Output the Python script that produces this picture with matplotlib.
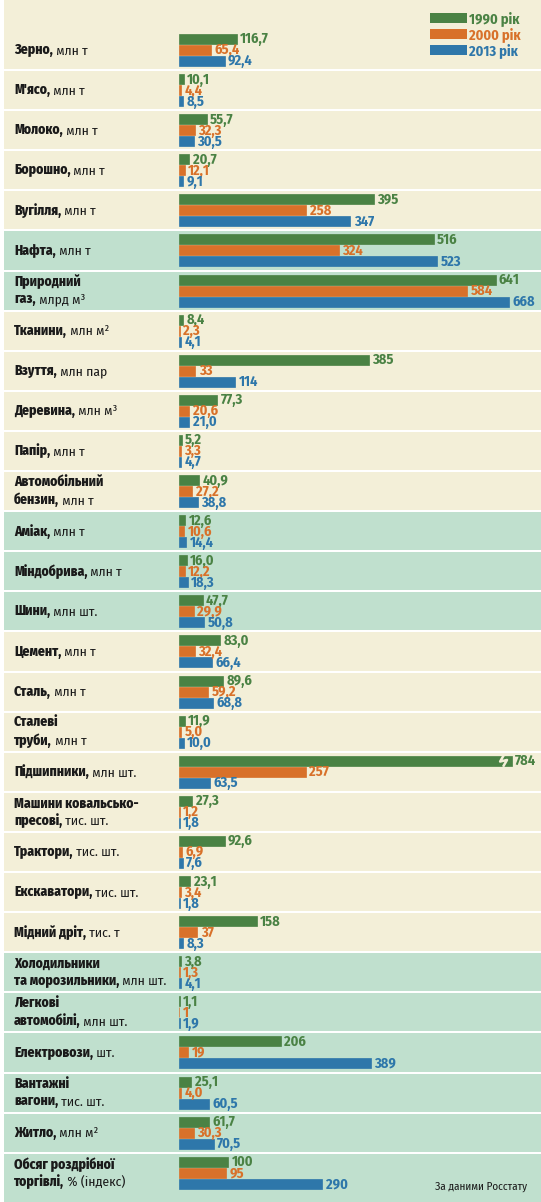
import matplotlib
matplotlib.use("Agg")
import matplotlib.pyplot as plt
from matplotlib import font_manager
from matplotlib.patches import Patch

# ---------------- data ----------------
names = ["Зерно", "М'ясо", "Молоко", "Борошно", "Вугілля", "Нафта", "Природний\nгаз",
         "Тканини", "Взуття", "Деревина", "Папір", "Автомобільний\nбензин", "Аміак",
         "Міндобрива", "Шини", "Цемент", "Сталь", "Сталеві\nтруби", "Підшипники",
         "Машини ковальсько-\nпресові", "Трактори", "Екскаватори", "Мідний дріт",
         "Холодильники\nта морозильники", "Легкові\nавтомобілі", "Електровози",
         "Вантажні\nвагони", "Житло", "Обсяг роздрібної\nторгівлі"]
units = ["млн т", "млн т", "млн т", "млн т", "млн т", "млн т", "млрд м³",
         "млн м²", "млн пар", "млн м³", "млн т", "млн т", "млн т",
         "млн т", "млн шт.", "млн т", "млн т", "млн т", "млн шт.",
         "тис. шт.", "тис. шт.", "тис. шт.", "тис. т",
         "млн шт.", "млн шт.", "шт.",
         "тис. шт.", "млн м²", "% (індекс)"]
labels_1990 = ["116,7", "10,1", "55,7", "20,7", "395", "516", "641", "8,4", "385", "77,3",
               "5,2", "40,9", "12,6", "16,0", "47,7", "83,0", "89,6", "11,9", "784", "27,3",
               "92,6", "23,1", "158", "3,8", "1,1", "206", "25,1", "61,7", "100"]
labels_2000 = ["65,4", "4,4", "32,3", "12,1", "258", "324", "584", "2,3", "33", "20,6",
               "3,3", "27,2", "10,6", "12,2", "29,9", "32,4", "59,2", "5,0", "257", "1,2",
               "6,9", "3,4", "37", "1,3", "1", "19", "4,0", "30,3", "95"]
labels_2013 = ["92,4", "8,5", "30,5", "9,1", "347", "523", "668", "4,1", "114", "21,0",
               "4,7", "38,8", "14,4", "18,3", "50,8", "66,4", "68,8", "10,0", "63,5", "1,8",
               "7,6", "1,8", "8,3", "4,1", "1,9", "389", "60,5", "70,5", "290"]
years = ["1990 рік", "2000 рік", "2013 рік"]
highlight_rows = [5, 6, 12, 13, 14, 23, 24, 25, 26, 27, 28]
axis_cap = 674  # longest bar drawn (larger values get a break mark)

# ---------------- style ----------------
C_GREEN, C_ORANGE, C_BLUE = "#4A8244", "#D8712A", "#2E77AA"
BG_CREAM, BG_GREEN = "#F3EFD8", "#C0E0CE"
TXT = "#1A1A1A"
series_colors = [C_GREEN, C_ORANGE, C_BLUE]

avail = {f.name for f in font_manager.fontManager.ttflist}
FONT = next((f for f in ["Fira Sans Condensed", "PT Sans Narrow", "Roboto Condensed", "Roboto"]
             if f in avail), "DejaVu Sans")
plt.rcParams["font.family"] = [FONT, "DejaVu Sans"]
FS = 9.8      # row labels
FS_V = 10.3   # value labels

W, H = 541, 1202
fig = plt.figure(figsize=(W / 100, H / 100), dpi=100)
ax = fig.add_axes([0, 0, 1, 1])
ax.axis("off")

PX_PER_UNIT = 0.494
X0 = 179  # pixel of value 0
ax.set_xlim(-X0 / PX_PER_UNIT, (W - X0) / PX_PER_UNIT)

PITCH = 40.1
FIRST_BOUND = 70.0
n = len(names)
y_top = 0.5 - FIRST_BOUND / PITCH
y_bot = 0.5 + (H - FIRST_BOUND) / PITCH
ax.set_ylim(y_bot, y_top)

# row backgrounds
gap = 1.0 / PITCH
for i in range(n):
    lo = y_top if i == 0 else i - 0.5 + gap
    hi = y_bot if i == n - 1 else i + 0.5 - gap
    col = BG_GREEN if i in highlight_rows else BG_CREAM
    ax.axhspan(lo, hi, xmin=4 / W, xmax=1, color=col, lw=0, zorder=0)

def to_num(s):
    return float(s.replace(",", "."))

series = [labels_1990, labels_2000, labels_2013]
offsets = [-11 / PITCH, 0, 11 / PITCH]
bh = 10 / PITCH
rows = list(range(n))
for k, (labs, col, off) in enumerate(zip(series, series_colors, offsets)):
    vals = [to_num(s) for s in labs]
    shown = [min(v, axis_cap) for v in vals]
    ax.barh([r + off for r in rows], shown, height=bh, color=col, edgecolor=col,
            linewidth=0.5, zorder=2, label=years[k])
    for r, (v, sv, s) in enumerate(zip(vals, shown, labs)):
        ax.annotate(s, xy=(sv, r + off), xytext=(2.4, -0.3), textcoords="offset points",
                    va="center", ha="left", color=col, fontsize=FS_V,
                    fontweight="bold", zorder=3)
        if v > axis_cap:
            xb = axis_cap - 26
            yy = r + off
            ax.plot([xb + 10, xb + 2, xb + 16, xb + 8],
                    [yy - bh * 0.6, yy + 0.02, yy - 0.02, yy + bh * 0.6],
                    color=BG_CREAM, lw=1.8, zorder=2.5, solid_capstyle="butt")

# row labels
LINE_PT = 12.4
for i, (nm, un) in enumerate(zip(names, units)):
    lines = nm.split("\n")
    m = len(lines)
    for j, ln in enumerate(lines):
        dy = ((m - 1) / 2 - j) * LINE_PT
        last = j == m - 1
        t = ax.annotate(ln + ("," if last else ""), xy=(14 / W, i),
                        xycoords=("axes fraction", "data"),
                        xytext=(0, dy), textcoords="offset points",
                        va="center", ha="left", fontsize=FS, fontweight="heavy",
                        color=TXT, zorder=3)
        if last:
            ax.annotate(" " + un, xy=(1, 0), xycoords=t, va="bottom", ha="left",
                        fontsize=FS, color=TXT, zorder=3)

# legend
handles = [Patch(facecolor=c, edgecolor="none") for c in series_colors]
leg = ax.legend(handles, years, loc="upper left",
                bbox_to_anchor=(430 / W, 1 - 11 / H), frameon=False,
                handlelength=2.6, handleheight=0.7,
                handletextpad=0.12, labelspacing=0.08, borderpad=0, borderaxespad=0,
                labelcolor=series_colors, prop={"family": FONT, "weight": "bold", "size": FS_V})

ax.text(435 / W, 1 - 1187 / H, "За даними Росстату", transform=ax.transAxes,
        fontsize=8, color=TXT, va="center", ha="left")

fig.savefig("out.png", dpi=100, facecolor="white")
